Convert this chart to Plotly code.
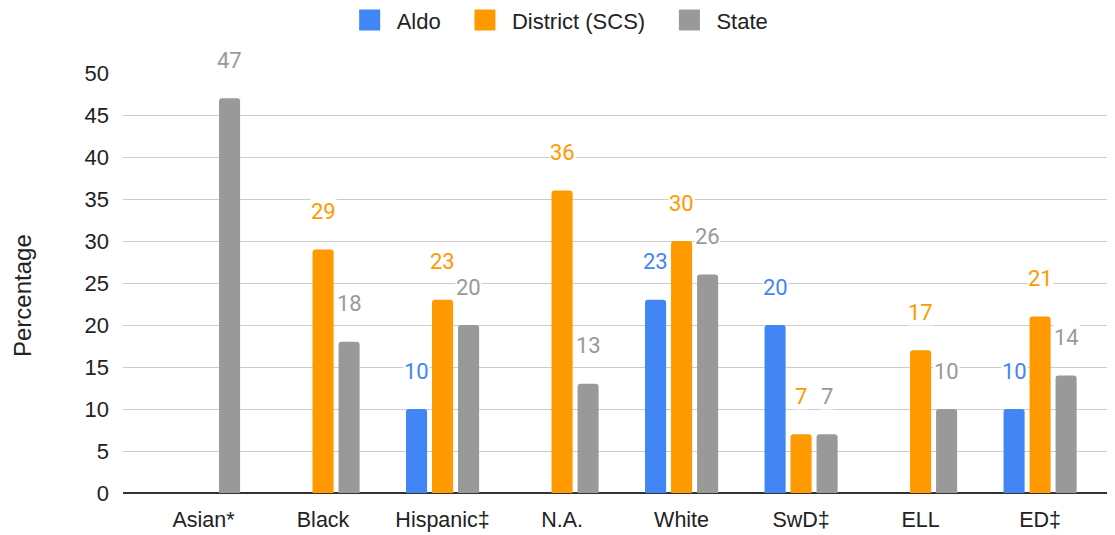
import plotly.graph_objects as go

categories = ["Asian*", "Black", "Hispanic\u2021", "N.A.", "White", "SwD\u2021", "ELL", "ED\u2021"]
aldo = [None, None, 10, None, 23, 20, None, 10]
district = [None, 29, 23, 36, 30, 7, 17, 21]
state = [47, 18, 20, 13, 26, 7, 10, 14]

series = [
    ("Aldo", aldo, "#4285F4"),
    ("District (SCS)", district, "#FF9900"),
    ("State", state, "#999999"),
]

fig = go.Figure()
for name, vals, color in series:
    fig.add_trace(go.Bar(
        x=categories, y=vals, name=name, showlegend=False,
        marker=dict(color=color, cornerradius=3, line=dict(width=0)),
        hoverinfo="skip",
    ))
# legend entries with larger square swatches
for i, (name, vals, color) in enumerate(series):
    pad = "\u00a0\u00a0" if i < len(series) - 1 else ""
    fig.add_trace(go.Scatter(
        x=[None], y=[None], name=name + pad, mode="markers",
        marker=dict(symbol="square", size=22, color=color,
                    line=dict(width=5, color=color)),
        showlegend=True,
    ))

# data labels floating above bars
pitch_px = 26
for si, (name, vals, color) in enumerate(series):
    for ci, v in enumerate(vals):
        if v is None:
            continue
        fig.add_annotation(
            x=categories[ci], y=v, xref="x", yref="y",
            text=str(v), showarrow=False,
            xshift=(si - 1) * pitch_px, yshift=38,
            font=dict(family="Roboto", size=22, color=color),
            bgcolor="white", borderpad=0,
        )

# y-axis title (placed slightly below the plot's vertical centre, as in the reference)
fig.add_annotation(
    text="Percentage", textangle=-90, showarrow=False,
    xref="paper", yref="paper", x=0, y=0.5, xanchor="center", yanchor="middle",
    xshift=-101, yshift=-13,
    font=dict(family="Liberation Sans, Arial", size=24, color="#222222"),
)

# page body adds an 8px offset, so the figure is sized/margined to compensate
fig.update_layout(
    width=1107, height=527,
    margin=dict(l=115, r=2, t=65, b=42),
    paper_bgcolor="white", plot_bgcolor="white",
    barmode="group", bargap=0.347, bargroupgap=0.19,
    font=dict(family="Liberation Sans, Arial", size=21, color="#222222"),
    legend=dict(orientation="h", x=0.497, xanchor="center", xref="container",
                y=0.977, yanchor="middle", yref="container",
                font=dict(size=22, color="#222222"),
                itemwidth=44, traceorder="normal", itemsizing="trace"),
    xaxis=dict(range=[-0.674, 7.61], showgrid=False, showline=False, ticks="",
               automargin=False, ticklabelstandoff=11,
               tickfont=dict(size=21.5, color="#222222")),
    yaxis=dict(range=[0, 50], dtick=5, showgrid=True, gridcolor="#cccccc", gridwidth=1,
               zeroline=True, zerolinecolor="#333333", zerolinewidth=2,
               ticks="", ticklabelstandoff=13, automargin=False,
               tickfont=dict(size=22, color="#222222")),
)

fig.write_html("out.html")
